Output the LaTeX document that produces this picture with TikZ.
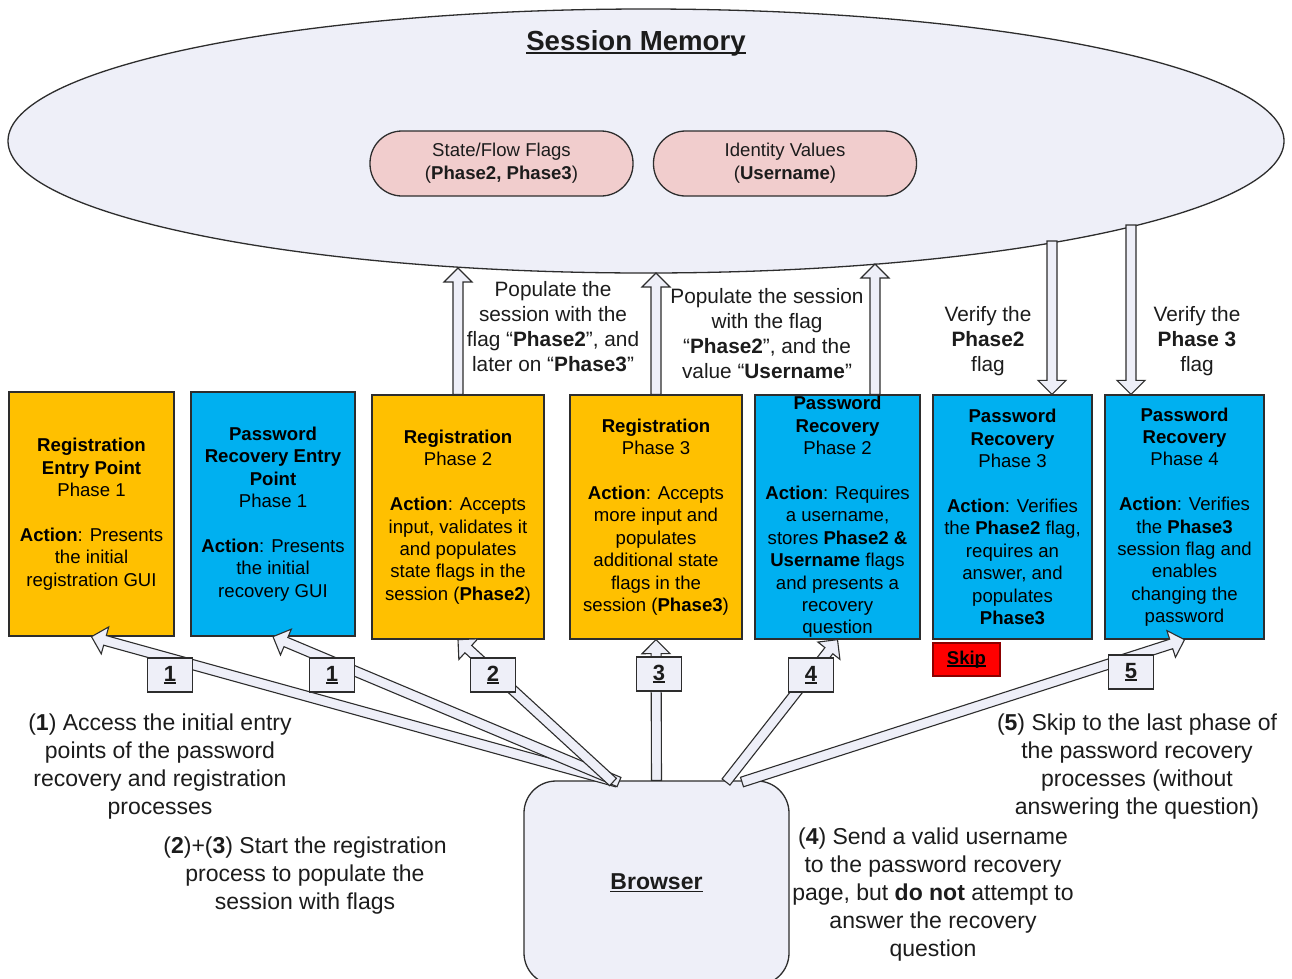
\documentclass[tikz,border=0pt]{standalone}
\usepackage{fontspec}
\setmainfont{Liberation Sans}
\usetikzlibrary{calc,shapes.geometric}
\definecolor{lav}{RGB}{238,239,248}
\definecolor{pillc}{RGB}{241,205,205}
\definecolor{regorange}{RGB}{255,192,0}
\definecolor{recblue}{RGB}{0,176,240}
\definecolor{edgec}{RGB}{45,45,45}
\definecolor{txt}{RGB}{28,28,28}
\definecolor{skipred}{RGB}{255,0,0}
\definecolor{skipedge}{RGB}{140,0,0}
\newcommand\boxf{\fontsize{18.6}{22.4}\selectfont}
\newcommand\popf{\fontsize{20.8}{25}\selectfont}
\newcommand\notef{\fontsize{23}{28}\selectfont}
\newcommand\pillf{\fontsize{18.6}{23}\selectfont}
\newcommand\titlef{\fontsize{27.6}{32}\selectfont}
\newcommand\numf{\fontsize{22}{26}\selectfont}
\newcommand\skipf{\fontsize{18.5}{22}\selectfont}
\newcommand\ulbase[1]{\setbox0\hbox{#1}\rlap{\rule[-0.13em]{\wd0}{0.075em}}\box0}
\newcommand\fatarrow[2]{%
  \coordinate (fah) at ($(#2)!14pt!(#1)$);
  \draw[fat] ($(#1)!5pt!90:(#2)$) -- ($(fah)!5pt!90:(#2)$) -- ($(fah)!14pt!90:(#2)$) -- (#2)
    -- ($(fah)!14pt!-90:(#2)$) -- ($(fah)!5pt!-90:(#2)$) -- ($(#1)!5pt!-90:(#2)$) -- cycle;
}
\begin{document}
\begin{tikzpicture}[x=1pt,y=-1pt,
  stepbox/.style={draw=edgec, line width=1.3pt, inner xsep=2pt, inner ysep=0pt, align=center, font=\boxf, text=black, minimum height=244pt},
  reg/.style={stepbox, fill=regorange},
  rec/.style={stepbox, fill=recblue},
  fat/.style={draw=edgec, fill=lav, line width=1.1pt, line join=miter},
  numbox/.style={draw=edgec, fill=lav, line width=1.2pt, minimum width=45pt, minimum height=34pt, inner sep=0pt, font=\numf, text=txt},
  note/.style={align=center, text=txt, font=\notef, inner sep=0pt},
  popnote/.style={align=center, text=txt, font=\popf, inner sep=0pt},
  pillbox/.style={draw=edgec, fill=pillc, rounded corners=32pt, minimum width=263pt, minimum height=65pt, align=center, font=\pillf, text=txt, line width=1.3pt}
]
\useasboundingbox (0,0) rectangle (1292,978);
\fill[white] (0,0) rectangle (1292,978);
\clip (0,0) rectangle (1292,978);

% session memory
\node[ellipse, draw=edgec, fill=lav, minimum width=1276pt, minimum height=264pt, inner sep=0pt, line width=1.3pt] (mem) at (646,141) {};
\node[font=\titlef, text=txt] (title) at (636,43) {\ulbase{\textbf{Session Memory}}};
\node[pillbox] (flags) at (501.5,163.5) {State/Flow Flags\\(\textbf{Phase2, Phase3})};
\node[pillbox] (ident) at (785,163.5) {Identity Values\\(\textbf{Username})};

% phase boxes
\node[reg, minimum width=165pt] (b1) at (91.5,514) {\textbf{Registration}\\\textbf{Entry Point}\\Phase 1\\[22.4pt]\textbf{Action}: Presents\\the initial\\registration GUI};
\node[rec, minimum width=164pt] (b2) at (273,514) {\textbf{Password}\\\textbf{Recovery Entry}\\\textbf{Point}\\Phase 1\\[22.4pt]\textbf{Action}: Presents\\the initial\\recovery GUI};
\node[reg, minimum width=172pt] (b3) at (458,517) {\textbf{Registration}\\Phase 2\\[22.4pt]\textbf{Action}: Accepts\\input, validates it\\and populates\\state flags in the\\session (\textbf{Phase2})};
\node[reg, minimum width=172pt] (b4) at (656,517) {\textbf{Registration}\\Phase 3\\[22.4pt]\textbf{Action}: Accepts\\more input and\\populates\\additional state\\flags in the\\session (\textbf{Phase3})};
\node[rec, minimum width=165pt] (b5) at (837.5,517) {\textbf{Password}\\\textbf{Recovery}\\Phase 2\\[22.4pt]\textbf{Action}: Requires\\a username,\\stores \textbf{Phase2 \&}\\\textbf{Username} flags\\and presents a\\recovery\\question};
\node[rec, minimum width=159pt] (b6) at (1012.5,517) {\textbf{Password}\\\textbf{Recovery}\\Phase 3\\[22.4pt]\textbf{Action}: Verifies\\the \textbf{Phase2} flag,\\requires an\\answer, and\\populates\\\textbf{Phase3}};
\node[rec, minimum width=159pt] (b7) at (1184.5,517) {\textbf{Password}\\\textbf{Recovery}\\Phase 4\\[22.4pt]\textbf{Action}: Verifies\\the \textbf{Phase3}\\session flag and\\enables\\changing the\\password};

% arrows to and from session memory
\coordinate (m3) at (458,268);
\coordinate (m4) at (656,273);
\coordinate (m5) at (875,264);
\coordinate (u5) at (b5.north -| m5);
\coordinate (e6) at (1052,241);
\coordinate (e7) at (1131,225);
\coordinate (d6) at (b6.north -| e6);
\coordinate (d7) at (b7.north -| e7);
\fatarrow{b3.north}{m3}
\fatarrow{b4.north}{m4}
\fatarrow{u5}{m5}
\fatarrow{e6}{d6}
\fatarrow{e7}{d7}

\node[popnote] (pop1) at (553,327) {Populate the\\session with the\\flag “\textbf{Phase2}”, and\\later on “\textbf{Phase3}”};
\node[popnote] (pop2) at (767,334) {Populate the session\\with the flag\\“\textbf{Phase2}”, and the\\value “\textbf{Username}”};
\node[popnote] (ver1) at (988,341) {Verify the\\\textbf{Phase2}\\flag};
\node[popnote] (ver2) at (1197,341) {Verify the\\\textbf{Phase 3}\\flag};

% browser
\node[draw=edgec, fill=lav, rounded corners=32pt, line width=1.3pt, minimum width=265pt, minimum height=204pt, font=\notef, text=txt] (browser) at (656.5,883) {\ulbase{\textbf{Browser}}};
\coordinate (br1) at (617,782);
\coordinate (br2) at (619,782);
\coordinate (br3) at (613,782);
\coordinate (br5) at (726,782);
\coordinate (br7) at (742,782);
\fatarrow{br1}{b1.south}
\fatarrow{br2}{b2.south}
\fatarrow{br3}{b3.south}
\fatarrow{browser.north}{b4.south}
\fatarrow{br5}{b5.south}
\fatarrow{br7}{b7.south}

% step numbers
\node[numbox] (n1a) at (170,675) {\ulbase{\textbf{1}}};
\node[numbox] (n1b) at (332,675) {\ulbase{\textbf{1}}};
\node[numbox] (n2) at (493,675) {\ulbase{\textbf{2}}};
\node[numbox] (n3) at (659,674) {\ulbase{\textbf{3}}};
\node[numbox] (n4) at (811,675) {\ulbase{\textbf{4}}};
\node[numbox] (n5) at (1131,672) {\ulbase{\textbf{5}}};

\node[draw=skipedge, fill=skipred, line width=1.2pt, minimum width=67pt, minimum height=33pt, inner sep=0pt, font=\skipf] (skip) at (966.5,659.5) {\ulbase{\textbf{Skip}}};

% step notes
\node[note] (ann1) at (160,767) {(\textbf{1}) Access the initial entry\\points of the password\\recovery and registration\\processes};
\node[note] (ann23) at (305,876) {(\textbf{2})+(\textbf{3}) Start the registration\\process to populate the\\session with flags};
\node[note] (ann4) at (933,895) {(\textbf{4}) Send a valid username\\to the password recovery\\page, but \textbf{do not} attempt to\\answer the recovery\\question};
\node[note] (ann5) at (1137,767) {(\textbf{5}) Skip to the last phase of\\the password recovery\\processes (without\\answering the question)};
\end{tikzpicture}
\end{document}
